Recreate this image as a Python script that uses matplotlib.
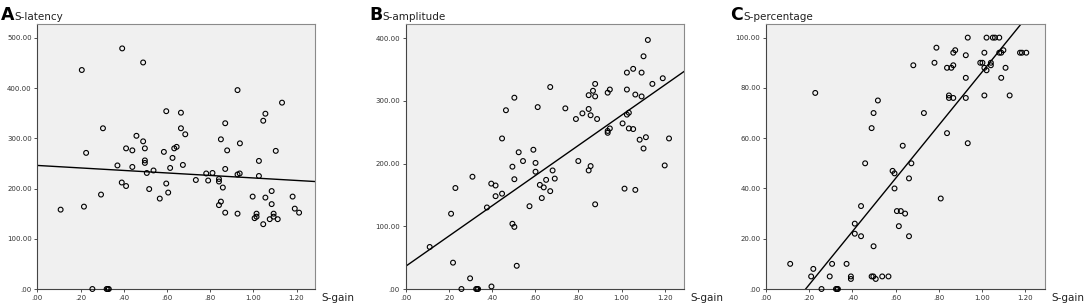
import numpy as np
import matplotlib
matplotlib.use('Agg')
import matplotlib.pyplot as plt
from matplotlib.ticker import FuncFormatter

# S-gain vs S-latency
gain_a = [0.108, 0.206, 0.216, 0.226, 0.255, 0.295, 0.304, 0.321, 0.326, 0.331,
          0.371, 0.393, 0.391, 0.411, 0.411, 0.440, 0.440, 0.459, 0.490, 0.490,
          0.498, 0.498, 0.498, 0.507, 0.518, 0.538, 0.567, 0.586, 0.597, 0.597,
          0.606, 0.615, 0.626, 0.634, 0.645, 0.665, 0.665, 0.674, 0.685, 0.734,
          0.782, 0.791, 0.811, 0.841, 0.841, 0.841, 0.850, 0.850, 0.859, 0.870,
          0.870, 0.870, 0.879, 0.927, 0.927, 0.937, 0.938, 0.927, 0.997, 1.006,
          1.015, 1.015, 1.026, 1.026, 1.046, 1.046, 1.056, 1.056, 1.076, 1.085,
          1.085, 1.094, 1.094, 1.104, 1.113, 1.133, 1.182, 1.192, 1.212]
latency = [158, 436, 164, 271, 0, 188, 320, 0, 0, 0,
           246, 479, 212, 205, 280, 276, 243, 305, 294, 451,
           280, 256, 251, 231, 199, 236, 180, 273, 354, 210,
           192, 241, 261, 280, 283, 351, 320, 247, 308, 217,
           230, 216, 231, 219, 214, 167, 298, 174, 202, 330,
           239, 152, 276, 396, 228, 230, 290, 150, 184, 141,
           150, 144, 255, 225, 129, 335, 349, 182, 139, 195,
           169, 150, 144, 275, 139, 371, 184, 160, 152]

# S-gain vs S-amplitude
gain_b = [0.112, 0.211, 0.220, 0.231, 0.259, 0.299, 0.310, 0.327, 0.332, 0.336,
          0.377, 0.397, 0.398, 0.417, 0.417, 0.447, 0.447, 0.465, 0.495, 0.495,
          0.504, 0.504, 0.504, 0.515, 0.524, 0.544, 0.574, 0.592, 0.602, 0.602,
          0.612, 0.622, 0.631, 0.640, 0.651, 0.670, 0.670, 0.681, 0.691, 0.740,
          0.789, 0.800, 0.819, 0.848, 0.848, 0.848, 0.857, 0.857, 0.868, 0.878,
          0.878, 0.878, 0.887, 0.936, 0.936, 0.936, 0.946, 0.946, 1.005, 1.014,
          1.025, 1.025, 1.025, 1.034, 1.034, 1.054, 1.054, 1.064, 1.064, 1.084,
          1.093, 1.093, 1.102, 1.102, 1.113, 1.122, 1.143, 1.191, 1.200, 1.220]
amplitude = [67, 120, 42, 161, 0, 17, 179, 0, 0, 0,
             130, 168, 4, 165, 148, 240, 152, 285, 195, 104,
             305, 175, 99, 37, 218, 204, 132, 222, 201, 187,
             290, 166, 145, 162, 174, 156, 322, 189, 176, 288,
             271, 204, 280, 309, 287, 189, 277, 196, 316, 327,
             307, 135, 271, 313, 252, 249, 318, 256, 264, 160,
             345, 318, 278, 281, 256, 351, 255, 310, 158, 238,
             345, 307, 371, 224, 242, 397, 327, 336, 197, 240]

# S-gain vs S-percentage
gain_c = [0.112, 0.209, 0.219, 0.228, 0.257, 0.295, 0.306, 0.324, 0.329, 0.333,
          0.373, 0.393, 0.393, 0.411, 0.411, 0.440, 0.440, 0.459, 0.489, 0.489,
          0.497, 0.498, 0.498, 0.508, 0.518, 0.538, 0.567, 0.586, 0.595, 0.595,
          0.606, 0.615, 0.624, 0.633, 0.644, 0.662, 0.662, 0.673, 0.682, 0.731,
          0.780, 0.789, 0.809, 0.838, 0.838, 0.847, 0.847, 0.858, 0.867, 0.867,
          0.867, 0.876, 0.925, 0.925, 0.925, 0.934, 0.934, 0.992, 1.002, 1.011,
          1.011, 1.011, 1.021, 1.021, 1.041, 1.041, 1.050, 1.060, 1.080, 1.080,
          1.089, 1.089, 1.099, 1.109, 1.128, 1.176, 1.185, 1.205]
percentage = [10, 5, 8, 78, 0, 5, 10, 0, 0, 0,
              10, 5, 4, 26, 22, 33, 21, 50, 64, 5,
              5, 70, 17, 4, 75, 5, 5, 47, 46, 40,
              31, 25, 31, 57, 30, 44, 21, 50, 89, 70,
              90, 96, 36, 88, 62, 77, 76, 88, 94, 89,
              76, 95, 93, 84, 76, 58, 100, 90, 90, 94,
              88, 77, 87, 100, 90, 89, 100, 100, 100, 94,
              94, 84, 95, 88, 77, 94, 94, 94]

# fit lines (intercept, slope)
fit_a = (246, -24.9)
fit_b = (36, 241)
fit_c = (-19.4, 105.7)

panels = [
    ('A', 'S-latency', gain_a, latency, fit_a, 527, [0, 100, 200, 300, 400, 500], (37.3, 315)),
    ('B', 'S-amplitude', gain_b, amplitude, fit_b, 422, [0, 100, 200, 300, 400], (405.5, 684)),
    ('C', 'S-percentage', gain_c, percentage, fit_c, 105.3, [0, 20, 40, 60, 80, 100], (766, 1045)),
]

W, H = 1084, 307
fig = plt.figure(figsize=(W / 100, H / 100), dpi=100)
fig.patch.set_facecolor('white')

def fmt(v, pos=None):
    s = '%.2f' % v
    if s.startswith('0'):
        s = s[1:]
    return s

top, bottom = 24.3, 289
for letter, name, xs, ys, fit, ymax, yticks, (l, r) in panels:
    ax = fig.add_axes([l / W, (H - bottom) / H, (r - l) / W, (bottom - top) / H])
    ax.set_facecolor('#f0f0f0')
    ax.scatter(xs, ys, s=12, facecolors='none', edgecolors='black',
               linewidths=0.8, zorder=3, clip_on=False)
    xmax = (r - l) / 216.0
    xl = np.array([0, xmax])
    ax.plot(xl, fit[0] + fit[1] * xl, color='black', lw=1.0, zorder=2)
    ax.set_xlim(0, xmax)
    ax.set_ylim(0, ymax)
    ax.set_xticks([0, 0.2, 0.4, 0.6, 0.8, 1.0, 1.2])
    ax.set_yticks(yticks)
    ax.xaxis.set_major_formatter(FuncFormatter(fmt))
    ax.yaxis.set_major_formatter(FuncFormatter(fmt))
    ax.tick_params(axis='both', direction='out', length=2.5, width=0.6,
                   labelsize=5, colors='#333333', pad=1.5)
    for side in ['top', 'right']:
        ax.spines[side].set_color('#8a8a8a')
        ax.spines[side].set_linewidth(0.8)
    for side in ['left', 'bottom']:
        ax.spines[side].set_color('#444444')
        ax.spines[side].set_linewidth(0.8)
    fig.text((l - 36) / W, (H - 20) / H, letter, fontsize=12.5, fontweight='bold',
             ha='left', va='baseline')
    fig.text((l - 23) / W, (H - 20.5) / H, name, fontsize=7.5,
             ha='left', va='baseline', color='#222222')
    fig.text((r + 6) / W, 6 / H, 'S-gain', fontsize=7.5, ha='left',
             va='baseline', color='#222222')

fig.savefig('out.png', dpi=100)
